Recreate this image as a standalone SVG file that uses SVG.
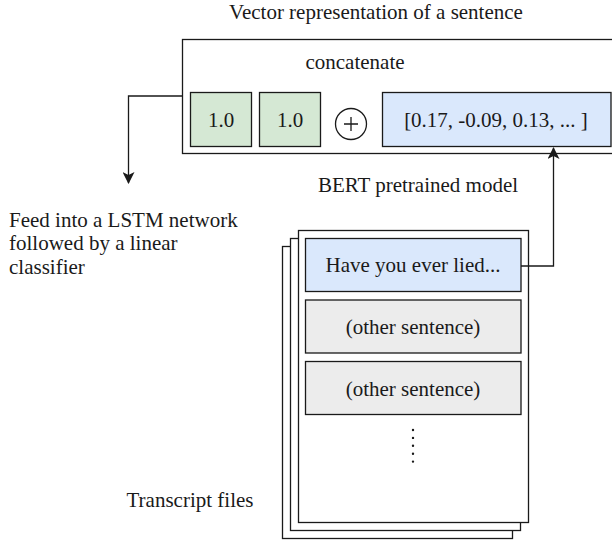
<svg xmlns="http://www.w3.org/2000/svg" width="612" height="542" viewBox="0 0 612 542" font-family="'Liberation Serif', 'Times New Roman', serif" font-size="21">
<defs>
<style>
text{font-family:"Liberation Serif","Times New Roman",serif;font-size:21px;fill:#1a1a1a}
.c{text-anchor:middle}
.box{stroke:#1a1a1a;stroke-width:1.3}
.white{fill:#ffffff}
.green{fill:#d5e8d4}
.blue{fill:#dae8fc}
.gray{fill:#ececec}
.edge{fill:none;stroke:#1a1a1a;stroke-width:1.3}
</style>
<marker id="arr" viewBox="0 0 12 12" refX="11" refY="6" markerWidth="12" markerHeight="12" markerUnits="userSpaceOnUse" orient="auto">
<path d="M0,0 L12,6 L0,12 L3,6 Z" fill="#1a1a1a"/>
</marker>
</defs>

<text class="c" font-family="Liberation Serif, serif" x="376" y="19">Vector representation of a sentence</text>

<g id="vector">
<rect class="box white" x="182.5" y="39.5" width="432" height="114"/>
<text class="c" font-family="Liberation Serif, serif" x="355" y="69">concatenate</text>
</g>
<g id="one1">
<rect class="box green" x="190.5" y="92.5" width="61" height="54"/>
<text class="c" font-family="Liberation Serif, serif" x="221" y="127">1.0</text>
</g>
<g id="one2">
<rect class="box green" x="259.5" y="92.5" width="61" height="54"/>
<text class="c" font-family="Liberation Serif, serif" x="290" y="127">1.0</text>
</g>
<g id="plus">
<circle class="box white" cx="351" cy="124" r="15.5"/>
<path class="edge" d="M344,124 H358 M351,117 V131"/>
</g>
<g id="embedding">
<rect class="box blue" x="382.5" y="92.5" width="228.5" height="54"/>
<text class="c" font-family="Liberation Serif, serif" x="496" y="127">[0.17, -0.09, 0.13, ... ]</text>
</g>

<g id="bert-label">
<text class="c" font-family="Liberation Serif, serif" x="418" y="192">BERT pretrained model</text>
</g>

<g id="lstm-label">
<text font-family="Liberation Serif, serif" x="9" y="226.5">Feed into a LSTM network</text>
<text font-family="Liberation Serif, serif" x="9" y="250">followed by a linear</text>
<text font-family="Liberation Serif, serif" x="9" y="273.5">classifier</text>
</g>

<g id="transcripts">
<rect class="box white" x="282.5" y="246.5" width="230" height="292"/>
<rect class="box white" x="290.5" y="238.5" width="230" height="292"/>
<rect class="box white" x="298.5" y="230.5" width="230" height="292"/>
<text class="c" font-family="Liberation Serif, serif" x="190" y="507">Transcript files</text>
</g>
<g id="sentence1">
<rect class="box blue" x="305.5" y="238.5" width="215.5" height="53"/>
<text class="c" font-family="Liberation Serif, serif" x="413" y="272">Have you ever lied...</text>
</g>
<g id="sentence2">
<rect class="box gray" x="305.5" y="300" width="215.5" height="53"/>
<text class="c" font-family="Liberation Serif, serif" x="413" y="334">(other sentence)</text>
</g>
<g id="sentence3">
<rect class="box gray" x="305.5" y="361.5" width="215.5" height="53"/>
<text class="c" font-family="Liberation Serif, serif" x="413" y="395.5">(other sentence)</text>
</g>
<g id="dots">
<line x1="413" y1="430" x2="413" y2="469.5" stroke="#1a1a1a" stroke-width="2.4" stroke-linecap="round" stroke-dasharray="0 7.9"/>
</g>

<g id="connectors">
<path class="edge" d="M182.5,96 H128.5 V183" marker-end="url(#arr)"/>
<path class="edge" d="M521,266 H553.5 V148" marker-end="url(#arr)"/>
</g>
</svg>
